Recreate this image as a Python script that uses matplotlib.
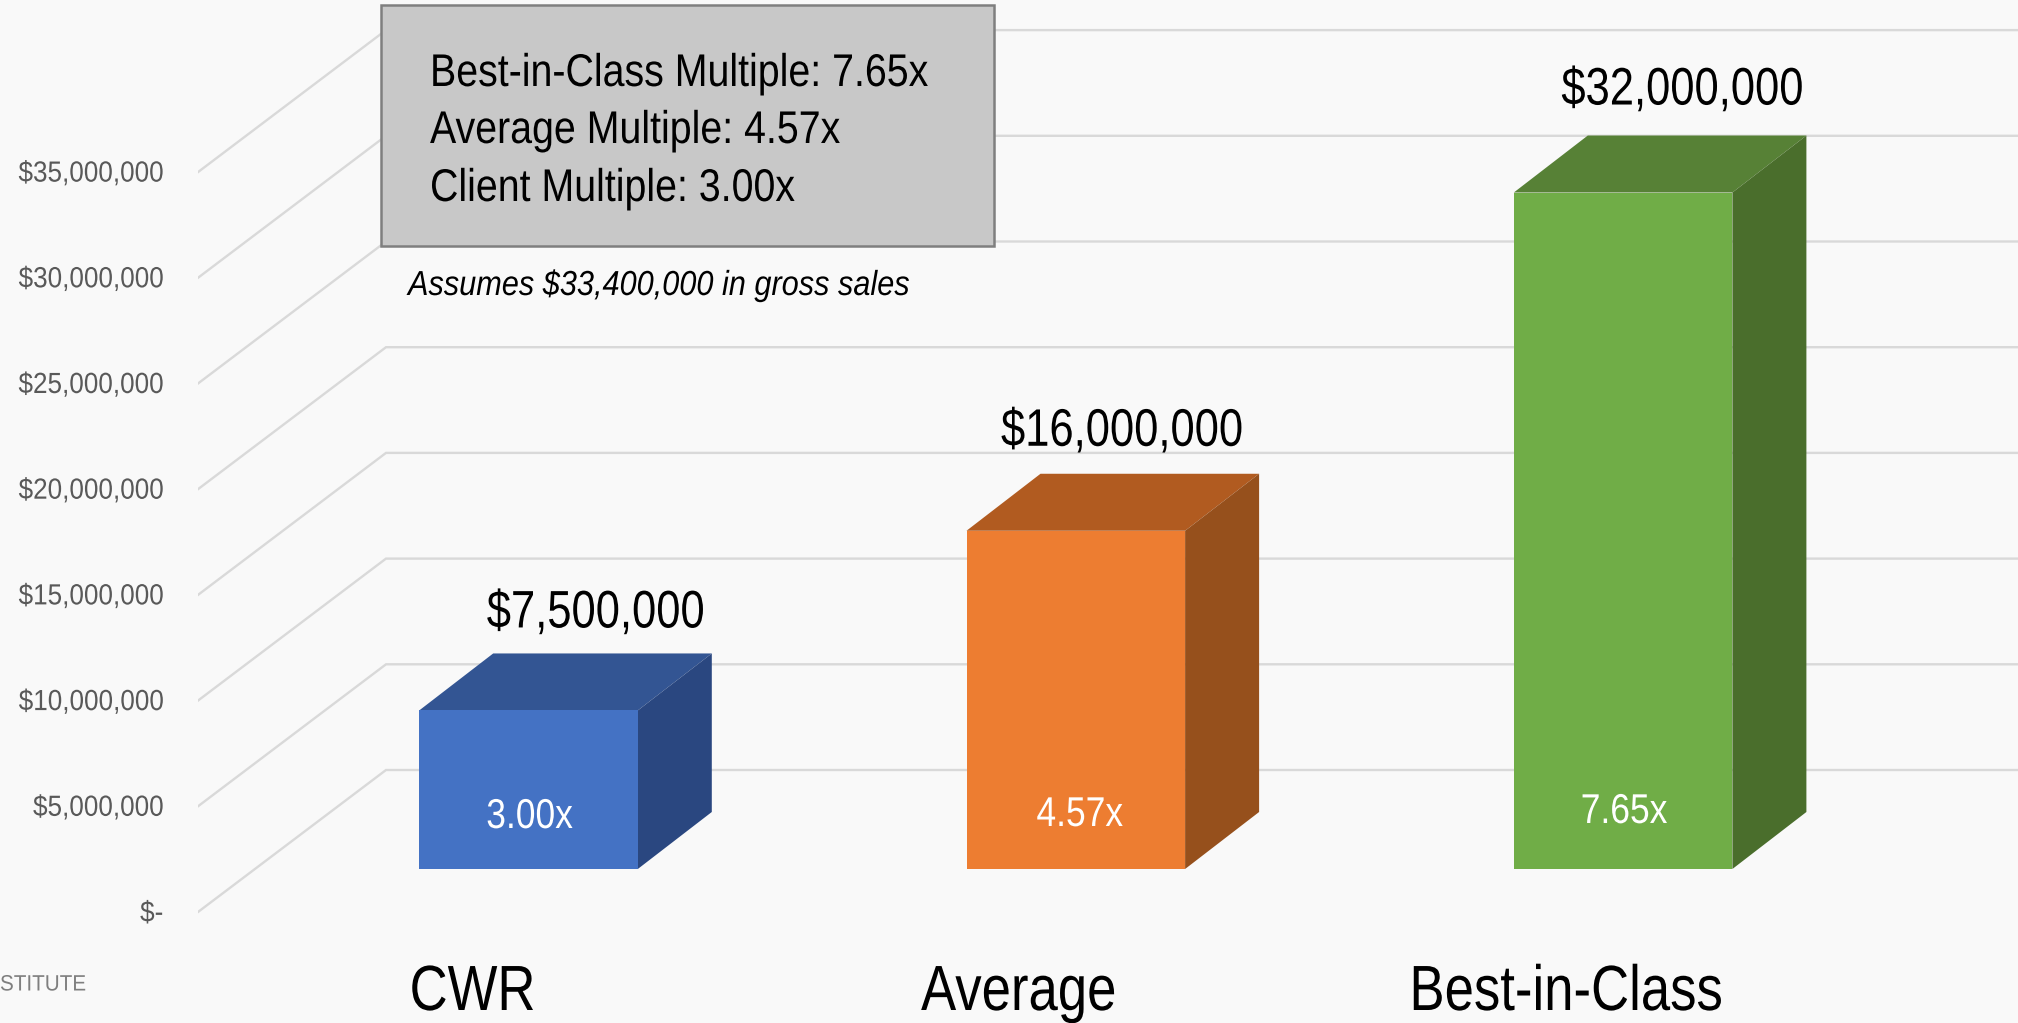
import matplotlib
matplotlib.use('Agg')
import matplotlib.pyplot as plt
import matplotlib.patches as patches
import matplotlib.patheffects as pe
from matplotlib.transforms import Affine2D
import numpy as np

plt.rcParams['font.family'] = ['Liberation Sans', 'DejaVu Sans']

# Data
categories = ['CWR', 'Average', 'Best-in-Class']
values = [7500000, 16000000, 32000000]
value_labels = ['$7,500,000', '$16,000,000', '$32,000,000']
multiples = ['3.00x', '4.57x', '7.65x']
tick_values = [0, 5000000, 10000000, 15000000, 20000000, 25000000, 30000000, 35000000]
tick_labels = ['$-', '$5,000,000', '$10,000,000', '$15,000,000', '$20,000,000',
               '$25,000,000', '$30,000,000', '$35,000,000']
box_lines = ['Best-in-Class Multiple: 7.65x', 'Average Multiple: 4.57x', 'Client Multiple: 3.00x']

front_colors = ['#4472c4', '#ed7d31', '#70ad47']
top_colors = ['#335593', '#b15b20', '#578136']
side_colors = ['#2a4780', '#96501c', '#4a6e2c']

W, H = 2018, 1023
BG = '#f9f9f9'
PX_PER_USD = 21.14e-6
CAT_START, CAT_STEP = 528.5, 547.3  # pixel of category 0, pixels per category
BAR_W = 218.6 / CAT_STEP
ZERO_ROW = 869


class Condense(pe.AbstractPathEffect):
    """Squeeze text sideways around a fixed pixel column (the reference font is narrow)"""

    def __init__(self, sx, anchor, dy=0):
        super().__init__()
        self.sx = sx
        self.anchor = anchor
        self.dy = dy

    def draw_path(self, renderer, gc, tpath, affine, rgbFace=None):
        squeeze = Affine2D().translate(-self.anchor, self.dy).scale(self.sx, 1).translate(self.anchor, 0)
        renderer.draw_path(gc, tpath, affine + squeeze, rgbFace)


def cat(px):
    return (px - CAT_START) / CAT_STEP


def usd(px):
    return px / PX_PER_USD


def fx(px):
    return px / W


def fy(px):
    return 1 - px / H


fig = plt.figure(figsize=(W / 100, H / 100), dpi=100, facecolor=BG)

# back walls + y axis, zero sits at pixel row 912
wall_left = 198
ax_wall = fig.add_axes([fx(wall_left), 0, 1 - fx(wall_left), 1])
ax_wall.patch.set_visible(False)
ax_wall.set_xlim(cat(wall_left), cat(W))
ax_wall.set_ylim(usd(912 - H), usd(912))
for s in ax_wall.spines.values():
    s.set_visible(False)
ax_wall.set_xticks([])
ax_wall.set_yticks(tick_values)
ax_wall.set_yticklabels(tick_labels, fontsize=21, color='#595959')
ax_wall.tick_params(axis='y', length=0, pad=25)
for lab in ax_wall.get_yticklabels():
    lab.set_path_effects([Condense(0.895, 163, dy=1.5)])
for v in tick_values:
    ax_wall.plot([cat(wall_left), cat(386), cat(W)],
                 [v, v + usd(142), v + usd(142)], color='#d9d9d9', lw=1.7,
                 solid_joinstyle='miter')

# bars
ax = fig.add_axes([0, 0, 1, 1])
ax.patch.set_visible(False)
ax.axis('off')
ax.set_xlim(cat(0), cat(W))
ax.set_ylim(usd(ZERO_ROW - H), usd(ZERO_ROW))

x = np.arange(len(categories))
ddx, ddy = 74 / CAT_STEP, usd(57)
ax.bar(x, values, width=BAR_W, color=front_colors, zorder=3)
for i, v in enumerate(values):
    l, r = x[i] - BAR_W / 2, x[i] + BAR_W / 2
    ax.add_patch(patches.Polygon([(l, v), (r, v), (r + ddx, v + ddy), (l + ddx, v + ddy)],
                                 facecolor=top_colors[i], edgecolor='none', zorder=2))
    ax.add_patch(patches.Polygon([(r, 0), (r + ddx, ddy), (r + ddx, v + ddy), (r, v)],
                                 facecolor=side_colors[i], edgecolor='none', zorder=2))

label_dx = [67, 46, 59]
label_dy = [83, 85, 88]
inner_dx = [1, 4, 1]
inner_y = [817, 815, 812]
name_dx = [-56, -57, -57]
for i, v in enumerate(values):
    px = CAT_START + CAT_STEP * i
    t = ax.text(x[i] + label_dx[i] / CAT_STEP, v + usd(label_dy[i]), value_labels[i], fontsize=38,
                ha='center', va='baseline', color='black', zorder=5)
    t.set_path_effects([Condense(0.825, px + label_dx[i])])
    t = ax.text(x[i] + inner_dx[i] / CAT_STEP, usd(ZERO_ROW - inner_y[i]), multiples[i], fontsize=30,
                ha='center', va='center', color='white', zorder=5)
    t.set_path_effects([Condense(0.85, px + inner_dx[i])])
    t = ax.text(x[i] + name_dx[i] / CAT_STEP, usd(ZERO_ROW - 1010), categories[i], fontsize=46,
                ha='center', va='baseline', color='black', zorder=5)
    t.set_path_effects([Condense(0.825, px + name_dx[i])])

# annotation box
fig.add_artist(patches.Rectangle((fx(381), fy(246)), fx(613), 241 / H, transform=fig.transFigure,
                                 facecolor='#c8c8c8', edgecolor='#7f7f7f', lw=1.8, zorder=2))
for line, base in zip(box_lines, [86, 143, 201]):
    t = fig.text(fx(430), fy(base), line, fontsize=33, color='black', va='baseline', zorder=3)
    t.set_path_effects([Condense(0.858, 430)])
t = fig.text(fx(408), fy(295), 'Assumes $33,400,000 in gross sales', fontsize=25, style='italic',
             color='black', va='baseline', zorder=3)
t.set_path_effects([Condense(0.884, 408)])
t = fig.text(0, fy(985), 'STITUTE', fontsize=16, color='#7f7f7f', va='center', zorder=3)
t.set_path_effects([Condense(0.93, 0)])

fig.savefig('out.png', dpi=100, facecolor=BG)
